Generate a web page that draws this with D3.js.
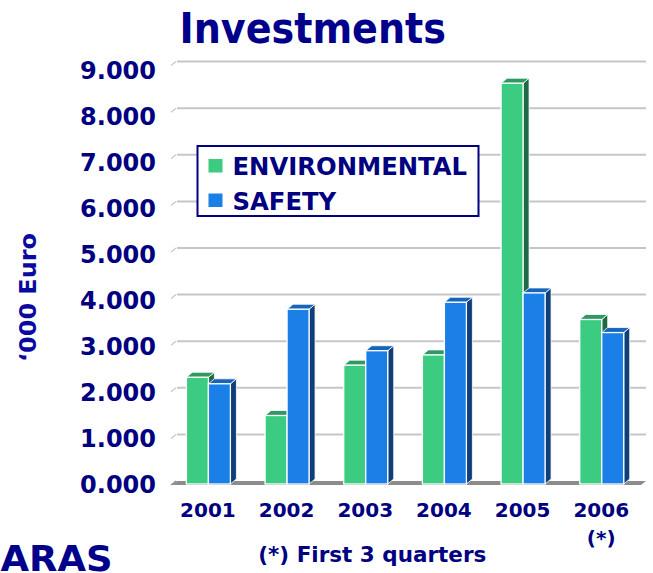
<!DOCTYPE html>
<html>
<head>
<meta charset="utf-8">
<script src="https://cdn.jsdelivr.net/npm/d3@7"></script>
<style>
  html, body { margin: 0; padding: 0; background: #ffffff; }
  svg { display: block; }
  text { font-family: "DejaVu Sans", Verdana, sans-serif; font-weight: bold; fill: #000080; }
</style>
</head>
<body>
<svg id="chart" width="653" height="573"></svg>
<script>
// ---- data ----
const years = ["2001", "2002", "2003", "2004", "2005", "2006"];
const seriesNames = ["ENVIRONMENTAL", "SAFETY"];
const environmental = [2290, 1470, 2550, 2770, 8600, 3530];
const safety = [2150, 3750, 2860, 3900, 4100, 3250];
const yTicks = [0, 1000, 2000, 3000, 4000, 5000, 6000, 7000, 8000, 9000];
const yTickLabels = ["0.000", "1.000", "2.000", "3.000", "4.000", "5.000", "6.000", "7.000", "8.000", "9.000"];

const svg = d3.select("#chart");

const colors = {
  ENVIRONMENTAL: { front: "#3bcc82", top: "#2e9a62", side: "#1f6a45" },
  SAFETY: { front: "#1a80e8", top: "#1664bb", side: "#0e3f78" }
};

const depth = { dx: 6, dy: -5 };
const wallOff = { dx: 5, dy: -3 };

const x0 = d3.scaleBand().domain(years).range([172, 644]).paddingInner(0).paddingOuter(0);
const x1 = d3.scaleBand().domain(seriesNames).range([0, 44]);
const groupOffset = 14.4;
const y = d3.scaleLinear().domain([0, 9000]).range([484, 64.6]);
const yLab = d3.scaleLinear().domain([0, 9000]).range([484, 70.5]);

// ---- title ----
svg.append("text")
  .attr("x", 179.5).attr("y", 42.7)
  .attr("font-size", 42)
  .attr("textLength", 266.5).attr("lengthAdjust", "spacingAndGlyphs")
  .style("fill", "#00008b")
  .text("Investments");

// ---- back wall gridlines ----
const grid = svg.append("g");
grid.selectAll("line.grid").data(yTicks).join("line")
  .attr("class", "grid")
  .attr("x1", 172 + wallOff.dx).attr("x2", 646)
  .attr("y1", d => y(d) + wallOff.dy).attr("y2", d => y(d) + wallOff.dy)
  .attr("stroke", d => d === 0 ? "none" : "#c6c6c6").attr("stroke-width", 2);

// little diagonal tick marks on the side wall
grid.selectAll("line.tk").data(yTicks).join("line")
  .attr("class", "tk")
  .attr("x1", 171).attr("y1", d => y(d) + 1)
  .attr("x2", 176).attr("y2", d => y(d) - 3)
  .attr("stroke", d => d === 0 ? "#8a8a8a" : "#c8c8c8").attr("stroke-width", 1.3);

// floor
const fl = 172, fr = 641;
svg.append("path")
  .attr("d", `M${fl},${y(0) + 1} L${fr},${y(0) + 1} L${fr + 5},${y(0) - 3} L${fl + 5},${y(0) - 3} Z`)
  .attr("fill", "#8c8c8c");

// ---- y axis labels ----
svg.append("g").selectAll("text").data(yTicks).join("text")
  .attr("x", 156).attr("y", d => yLab(d))
  .attr("dy", "0.36em")
  .attr("text-anchor", "end")
  .attr("font-size", 24)
  .text((d, i) => yTickLabels[i]);

// y axis title
svg.append("text")
  .attr("transform", "translate(36,297.5) rotate(-90)")
  .attr("text-anchor", "middle")
  .attr("font-size", 23.5)
  .attr("textLength", 129).attr("lengthAdjust", "spacingAndGlyphs")
  .style("fill", "#0a0aa0")
  .text("\u2018000 Euro");

// ---- bars ----
const data = [];
years.forEach((yr, i) => {
  data.push({ year: yr, series: "ENVIRONMENTAL", value: environmental[i] });
  data.push({ year: yr, series: "SAFETY", value: safety[i] });
});

const barG = svg.append("g");
data.forEach(d => {
  const xl = x0(d.year) + groupOffset + x1(d.series);
  const w = x1.bandwidth();
  const yt = y(d.value), yb = y(0);
  const c = colors[d.series];
  const g = barG.append("g");
  // side face
  g.append("path")
    .attr("d", `M${xl + w},${yb} L${xl + w + depth.dx},${yb + depth.dy} L${xl + w + depth.dx},${yt + depth.dy} L${xl + w},${yt} Z`)
    .attr("fill", c.side).attr("stroke", "#ffffff").attr("stroke-width", 0.8).attr("stroke-linejoin", "round");
  // top face
  g.append("path")
    .attr("d", `M${xl},${yt} L${xl + w},${yt} L${xl + w + depth.dx},${yt + depth.dy} L${xl + depth.dx},${yt + depth.dy} Z`)
    .attr("fill", c.top).attr("stroke", "#ffffff").attr("stroke-width", 0.8).attr("stroke-linejoin", "round");
  // front face
  g.append("rect")
    .attr("x", xl).attr("y", yt)
    .attr("width", w).attr("height", yb - yt)
    .attr("fill", c.front).attr("stroke", "#ffffff").attr("stroke-width", 1.3);
});

// ---- x labels ----
svg.append("g").selectAll("text").data(years).join("text")
  .attr("x", d => x0(d) + groupOffset + 21.5)
  .attr("y", 516.7)
  .attr("text-anchor", "middle")
  .attr("font-size", 20)
  .text(d => d);

svg.append("text")
  .attr("x", x0("2006") + groupOffset + 21.5).attr("y", 545)
  .attr("text-anchor", "middle")
  .attr("font-size", 20)
  .text("(*)");

// ---- legend ----
const lg = svg.append("g");
lg.append("rect")
  .attr("x", 197.5).attr("y", 146).attr("width", 281).attr("height", 70)
  .attr("fill", "#ffffff").attr("stroke", "#000080").attr("stroke-width", 2);
const legendRows = [{ name: "ENVIRONMENTAL", base: 175 }, { name: "SAFETY", base: 209.5 }];
legendRows.forEach(r => {
  lg.append("rect")
    .attr("x", 208.5).attr("y", r.base - 16).attr("width", 14).attr("height", 13.5)
    .attr("fill", colors[r.name].front);
  lg.append("text")
    .attr("x", 232.5).attr("y", r.base)
    .attr("font-size", 24.3)
    .text(r.name);
});

// ---- footnote ----
svg.append("text")
  .attr("x", 258.3).attr("y", 561.7)
  .attr("font-size", 22)
  .attr("textLength", 228).attr("lengthAdjust", "spacingAndGlyphs")
  .text("(*) First 3 quarters");

// ---- logo fragment ----
svg.append("text")
  .attr("x", 0.5).attr("y", 571)
  .attr("font-size", 36)
  .attr("textLength", 112).attr("lengthAdjust", "spacingAndGlyphs")
  .style("fill", "#00008b")
  .text("ARAS");
</script>
</body>
</html>
